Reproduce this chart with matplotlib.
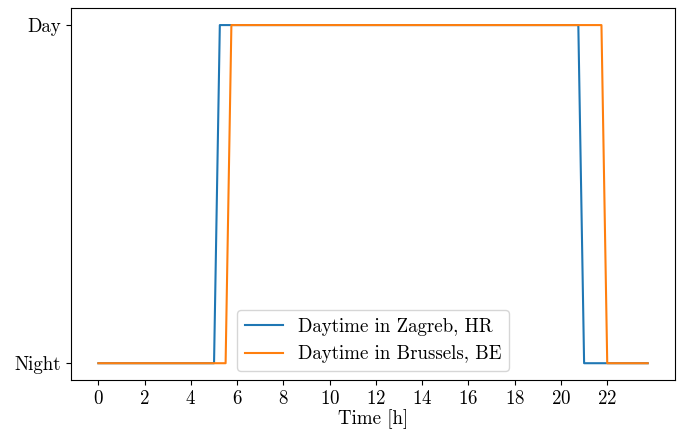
import matplotlib
matplotlib.use("Agg")
import matplotlib.pyplot as plt

plt.rcParams['font.family'] = 'serif'
plt.rcParams['font.serif'] = ['cmr10']
plt.rcParams['mathtext.fontset'] = 'cm'
plt.rcParams['axes.formatter.use_mathtext'] = True
plt.rcParams['font.size'] = 13.6

# day/night state (0 = night, 1 = day) at the change points, hours of the day
zagreb_t = [0, 5.0, 5.25, 20.75, 21.0, 23.75]
zagreb_day = [0, 0, 1, 1, 0, 0]
brussels_t = [0, 5.5, 5.75, 21.75, 22.0, 23.75]
brussels_day = [0, 0, 1, 1, 0, 0]

hour_ticks = list(range(0, 23, 2))
state_ticks = [0, 1]
state_labels = ['Night', 'Day']

fig, ax = plt.subplots(figsize=(6.82, 4.3), dpi=100)
fig.subplots_adjust(left=0.104, right=0.99, bottom=0.116, top=0.981)

ax.plot(zagreb_t, zagreb_day, label='Daytime in Zagreb, HR')
ax.plot(brussels_t, brussels_day, label='Daytime in Brussels, BE')

ax.set_xticks(hour_ticks)
ax.set_yticks(state_ticks)
ax.set_yticklabels(state_labels)
ax.set_xlabel('Time [h]', labelpad=1)
ax.legend(loc='lower center')

fig.savefig('out.png')
